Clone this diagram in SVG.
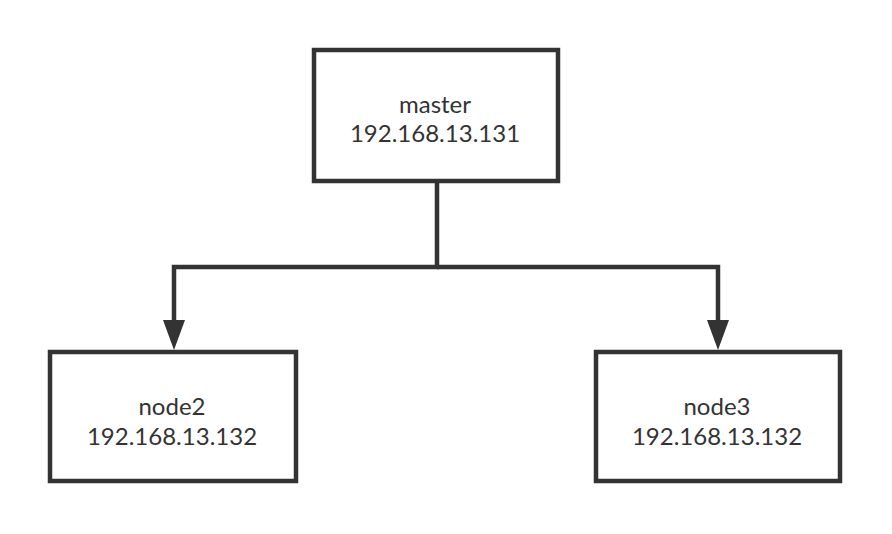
<svg xmlns="http://www.w3.org/2000/svg" width="892" height="534" viewBox="0 0 892 534">
<style>
.box{fill:#fff;stroke:#333;stroke-width:4.5}
.lbl{font-family:Lato,"Noto Sans",sans-serif;font-size:24px;fill:#333;text-anchor:middle}
.edge{fill:none;stroke:#333;stroke-width:4.5}
</style>
<rect width="892" height="534" fill="#fff"/>
<g id="connectors">
<path class="edge" d="M437,181 V267 H174 V320"/>
<path class="edge" d="M437,267 H718 V320"/>
<path d="M163,320 L185,320 L174,350 Z" fill="#333"/>
<path d="M707,320 L729,320 L718,350 Z" fill="#333"/>
</g>
<g id="master">
<rect class="box" x="314" y="50" width="244" height="131"/>
<text class="lbl" x="435" y="113">master</text>
<text class="lbl" x="435" y="142">192.168.13.131</text>
</g>
<g id="node2">
<rect class="box" x="50" y="352" width="246" height="129"/>
<text class="lbl" x="172" y="415">node2</text>
<text class="lbl" x="172" y="445">192.168.13.132</text>
</g>
<g id="node3">
<rect class="box" x="596" y="352" width="244" height="129"/>
<text class="lbl" x="717" y="415">node3</text>
<text class="lbl" x="717" y="445">192.168.13.132</text>
</g>
</svg>
